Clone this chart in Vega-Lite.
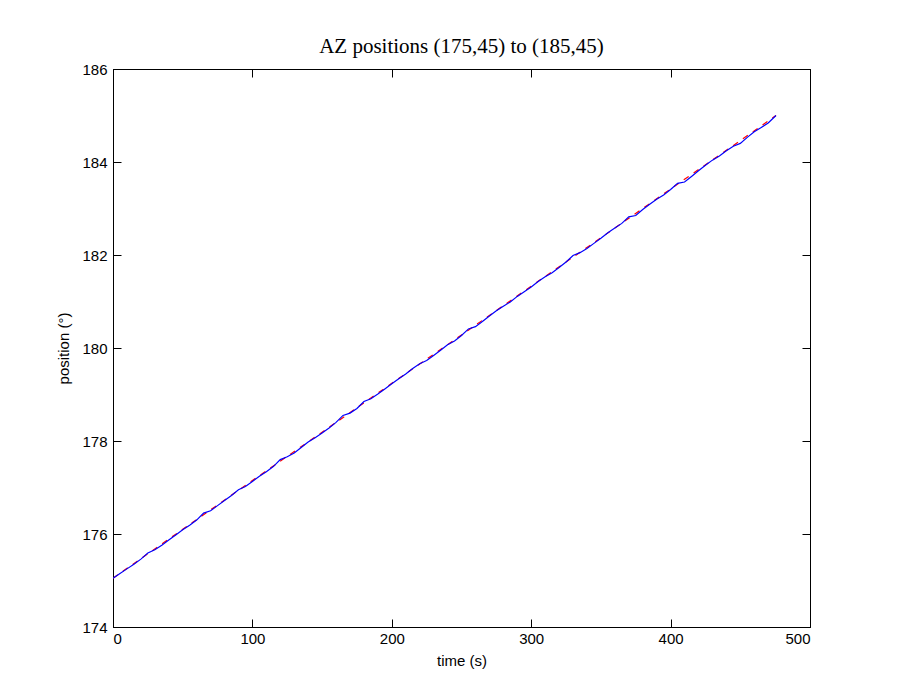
{
  "$schema": "https://vega.github.io/schema/vega-lite/v6.json",
  "autosize": "none",
  "padding": {"left": 113, "top": 69, "right": 91, "bottom": 69},
  "width": 697,
  "height": 558,
  "background": "white",
  "title": {"text": "AZ positions (175,45) to (185,45)", "font": "Liberation Serif", "fontSize": 21, "fontWeight": "normal", "color": "black", "offset": 5, "anchor": "middle"},
  "config": {
    "view": {"stroke": "black", "strokeWidth": 1},
    "axis": {"domainColor": "black", "tickColor": "black", "labelColor": "black", "titleColor": "black", "labelFont": "Liberation Sans", "titleFont": "Liberation Sans", "labelFontSize": 15, "titleFontSize": 15, "titleFontWeight": "normal", "grid": false, "tickSize": -8, "labelPadding": 12}
  },
  "datasets": {
    "cmd": [
      {"t": 0, "pos": 175.05}, {"t": 50, "pos": 176.10}, {"t": 100, "pos": 177.15}, {"t": 150, "pos": 178.19}, {"t": 200, "pos": 179.24}, {"t": 250, "pos": 180.28}, {"t": 300, "pos": 181.33}, {"t": 350, "pos": 182.37}, {"t": 400, "pos": 183.42}, {"t": 450, "pos": 184.46}, {"t": 475.6, "pos": 185.0}
    ],
    "meas": [
      {"t": 0, "pos": 175.05}, {"t": 5, "pos": 175.15}, {"t": 10, "pos": 175.25}, {"t": 15, "pos": 175.35}, {"t": 20, "pos": 175.46}, {"t": 25, "pos": 175.59}, {"t": 30, "pos": 175.66}, {"t": 35, "pos": 175.76}, {"t": 40, "pos": 175.87}, {"t": 45, "pos": 175.98},
      {"t": 50, "pos": 176.09}, {"t": 55, "pos": 176.19}, {"t": 60, "pos": 176.30}, {"t": 65, "pos": 176.45}, {"t": 70, "pos": 176.50}, {"t": 75, "pos": 176.61}, {"t": 80, "pos": 176.72}, {"t": 85, "pos": 176.83}, {"t": 90, "pos": 176.95}, {"t": 95, "pos": 177.02},
      {"t": 100, "pos": 177.13}, {"t": 105, "pos": 177.24}, {"t": 110, "pos": 177.34}, {"t": 115, "pos": 177.45}, {"t": 120, "pos": 177.60}, {"t": 125, "pos": 177.66}, {"t": 130, "pos": 177.74}, {"t": 135, "pos": 177.86}, {"t": 140, "pos": 177.98}, {"t": 145, "pos": 178.07},
      {"t": 150, "pos": 178.17}, {"t": 155, "pos": 178.28}, {"t": 160, "pos": 178.40}, {"t": 165, "pos": 178.55}, {"t": 170, "pos": 178.60}, {"t": 175, "pos": 178.70}, {"t": 180, "pos": 178.85}, {"t": 185, "pos": 178.91}, {"t": 190, "pos": 179.01}, {"t": 195, "pos": 179.12},
      {"t": 200, "pos": 179.23}, {"t": 205, "pos": 179.34}, {"t": 210, "pos": 179.44}, {"t": 215, "pos": 179.56}, {"t": 220, "pos": 179.66}, {"t": 225, "pos": 179.73}, {"t": 230, "pos": 179.84}, {"t": 235, "pos": 179.95}, {"t": 240, "pos": 180.07}, {"t": 245, "pos": 180.15},
      {"t": 250, "pos": 180.27}, {"t": 255, "pos": 180.41}, {"t": 260, "pos": 180.46}, {"t": 265, "pos": 180.57}, {"t": 270, "pos": 180.69}, {"t": 275, "pos": 180.80}, {"t": 280, "pos": 180.90}, {"t": 285, "pos": 180.99}, {"t": 290, "pos": 181.11}, {"t": 295, "pos": 181.21},
      {"t": 300, "pos": 181.31}, {"t": 305, "pos": 181.43}, {"t": 310, "pos": 181.53}, {"t": 315, "pos": 181.62}, {"t": 320, "pos": 181.73}, {"t": 325, "pos": 181.85}, {"t": 330, "pos": 181.99}, {"t": 335, "pos": 182.05}, {"t": 340, "pos": 182.14}, {"t": 345, "pos": 182.25},
      {"t": 350, "pos": 182.36}, {"t": 355, "pos": 182.48}, {"t": 360, "pos": 182.58}, {"t": 365, "pos": 182.68}, {"t": 370, "pos": 182.82}, {"t": 375, "pos": 182.85}, {"t": 380, "pos": 182.98}, {"t": 385, "pos": 183.09}, {"t": 390, "pos": 183.20}, {"t": 395, "pos": 183.29},
      {"t": 400, "pos": 183.41}, {"t": 405, "pos": 183.54}, {"t": 410, "pos": 183.57}, {"t": 415, "pos": 183.69}, {"t": 420, "pos": 183.81}, {"t": 425, "pos": 183.93}, {"t": 430, "pos": 184.04}, {"t": 435, "pos": 184.13}, {"t": 440, "pos": 184.24}, {"t": 445, "pos": 184.34},
      {"t": 450, "pos": 184.40}, {"t": 455, "pos": 184.53}, {"t": 460, "pos": 184.65}, {"t": 465, "pos": 184.74}, {"t": 470, "pos": 184.84}, {"t": 475.6, "pos": 185.00}
    ]
  },
  "layer": [
    {
      "data": {"name": "cmd"},
      "mark": {"type": "line", "color": "#ff0000", "strokeWidth": 1.2, "strokeDash": [6, 6], "clip": true},
      "encoding": {
        "x": {"field": "t", "type": "quantitative", "scale": {"domain": [0, 500], "nice": false}, "axis": {"title": "time (s)", "values": [0, 100, 200, 300, 400, 500], "titlePadding": 7}},
        "y": {"field": "pos", "type": "quantitative", "scale": {"domain": [174, 186], "nice": false, "zero": false}, "axis": {"title": "position (°)", "values": [174, 176, 178, 180, 182, 184, 186], "labelPadding": 14, "titlePadding": 10}}
      }
    },
    {
      "data": {"name": "meas"},
      "mark": {"type": "line", "color": "#0000ff", "strokeWidth": 1.2, "clip": true},
      "encoding": {
        "x": {"field": "t", "type": "quantitative", "axis": {"orient": "top", "title": null, "labels": false, "values": [0, 100, 200, 300, 400, 500]}},
        "y": {"field": "pos", "type": "quantitative", "axis": {"orient": "right", "title": null, "labels": false, "values": [174, 176, 178, 180, 182, 184, 186]}}
      }
    }
  ],
  "resolve": {"axis": {"x": "independent", "y": "independent"}}
}
